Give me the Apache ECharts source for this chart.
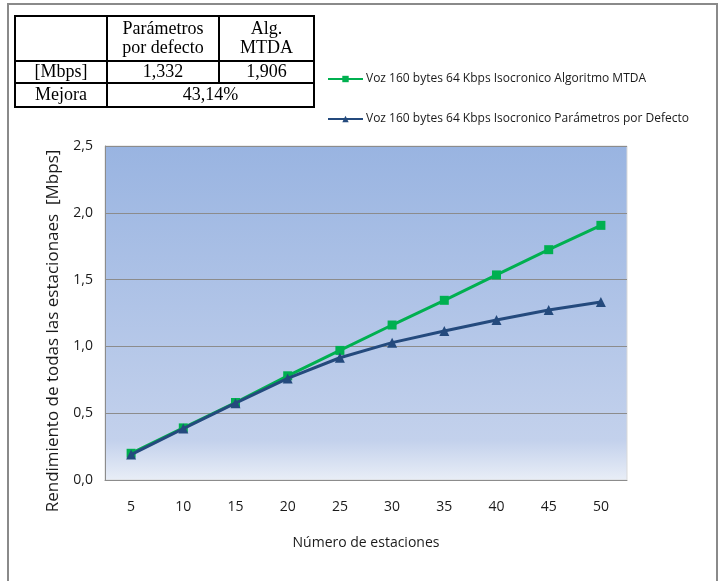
<!DOCTYPE html>
<html>
<head>
<meta charset="utf-8">
<script src="https://cdn.jsdelivr.net/npm/echarts@6/dist/echarts.min.js"></script>
<style>
  html, body { margin: 0; padding: 0; background: #ffffff; }
  #chart { width: 719px; height: 581px; }
</style>
</head>
<body>
<div id="chart"></div>
<script>
// Stations on the x axis
const estaciones = ['5', '10', '15', '20', '25', '30', '35', '40', '45', '50'];

// Aggregate throughput [Mbps]
const mtda = [0.20, 0.39, 0.58, 0.78, 0.97, 1.16, 1.345, 1.535, 1.724, 1.906];
const defecto = [0.19, 0.385, 0.575, 0.76, 0.915, 1.028, 1.115, 1.198, 1.272, 1.332];

const serieNames = [
  'Voz 160 bytes 64 Kbps Isocronico Algoritmo MTDA',
  'Voz 160 bytes 64 Kbps Isocronico Parámetros por Defecto'
];

const ejeY = 'Rendimiento de todas las estacionaes  [Mbps]';
const ejeX = 'Número de estaciones';

// Summary table
const tablaCabecera = ['', 'Parámetros\npor defecto', 'Alg.\nMTDA'];
const tablaMbps = ['[Mbps]', '1,332', '1,906'];
const tablaMejora = ['Mejora', '43,14%'];

const sansFont = '"Open Sans", sans-serif';
const serifFont = '"Liberation Serif", "DejaVu Serif", serif';

// Table geometry
const colX = [15, 107, 219, 314];
const rowY = [16, 61, 83, 107];

const tableGraphics = [];
tableGraphics.push({
  type: 'rect',
  shape: { x: colX[0], y: rowY[0], width: colX[3] - colX[0], height: rowY[3] - rowY[0] },
  style: { fill: '#ffffff', stroke: '#000000', lineWidth: 2 }
});
[rowY[1], rowY[2]].forEach(y => tableGraphics.push({
  type: 'line', shape: { x1: colX[0], y1: y, x2: colX[3], y2: y },
  style: { stroke: '#000000', lineWidth: 2 }
}));
tableGraphics.push({ type: 'line', shape: { x1: colX[1], y1: rowY[0], x2: colX[1], y2: rowY[3] }, style: { stroke: '#000', lineWidth: 2 } });
tableGraphics.push({ type: 'line', shape: { x1: colX[2], y1: rowY[0], x2: colX[2], y2: rowY[2] }, style: { stroke: '#000', lineWidth: 2 } });

function cellText(text, x0, x1, y0, y1, lh) {
  return {
    type: 'text',
    x: (x0 + x1) / 2, y: (y0 + y1) / 2,
    style: {
      text: text, fill: '#000000',
      font: '18px ' + serifFont,
      lineHeight: lh || 20,
      align: 'center', verticalAlign: 'middle'
    }
  };
}
for (let c = 0; c < 3; c++) {
  tableGraphics.push(cellText(tablaCabecera[c], colX[c], colX[c + 1], rowY[0], rowY[1] + 1, 19));
  tableGraphics.push(cellText(tablaMbps[c], colX[c], colX[c + 1], rowY[1], rowY[2]));
}
tableGraphics.push(cellText(tablaMejora[0], colX[0], colX[1], rowY[2], rowY[3]));
tableGraphics.push(cellText(tablaMejora[1], colX[1], colX[3], rowY[2], rowY[3]));

// Rotated y-axis title, centred on the label column rather than the grid
tableGraphics.push({
  type: 'text',
  x: 53, y: 331,
  rotation: Math.PI / 2,
  style: {
    text: ejeY, fill: '#1a1a1a',
    font: '17px ' + sansFont,
    align: 'center', verticalAlign: 'middle'
  }
});

const chart = echarts.init(document.getElementById('chart'), null, { renderer: 'canvas' });

chart.setOption({
  backgroundColor: '#ffffff',
  animation: false,
  graphic: [
    {
      type: 'rect',
      shape: { x: 8, y: 4, width: 709, height: 600 },
      style: { fill: 'none', stroke: '#8a8a8a', lineWidth: 2 },
      z: -1
    }
  ].concat(tableGraphics),
  legend: {
    orient: 'vertical',
    left: 322,
    top: 68,
    itemWidth: 35,
    itemHeight: 8,
    itemGap: 28,
    data: serieNames,
    textStyle: { fontFamily: sansFont, fontSize: 12, color: '#1a1a1a', padding: [0, 0, 0, -2] }
  },
  grid: {
    left: 105, right: 92, top: 146, bottom: 101,
    show: true,
    borderColor: '#d9d9d9',
    borderWidth: 1,
    backgroundColor: {
      type: 'linear', x: 0, y: 0, x2: 0, y2: 1,
      colorStops: [
        { offset: 0, color: '#99b4e1' },
        { offset: 0.88, color: '#c3d1ec' },
        { offset: 1, color: '#e9eef7' }
      ]
    }
  },
  xAxis: {
    type: 'category',
    data: estaciones,
    boundaryGap: true,
    axisLine: { lineStyle: { color: '#8c8c8c', width: 1 } },
    axisTick: { show: false },
    axisLabel: { margin: 20, fontFamily: sansFont, fontSize: 14, color: '#1a1a1a' },
    name: ejeX,
    nameLocation: 'middle',
    nameGap: 56,
    nameTextStyle: { fontFamily: sansFont, fontSize: 14, color: '#1a1a1a' }
  },
  yAxis: {
    type: 'value',
    min: 0, max: 2.5, interval: 0.5,
    axisLine: { show: true, lineStyle: { color: '#8c8c8c' } },
    axisTick: { show: false },
    splitLine: { lineStyle: { color: '#8c8c8c', width: 1 } },
    axisLabel: {
      margin: 12, fontFamily: sansFont, fontSize: 14, color: '#1a1a1a',
      formatter: v => v.toFixed(1).replace('.', ',')
    }
  },
  series: [
    {
      name: serieNames[0],
      type: 'line',
      data: mtda,
      symbol: 'rect',
      symbolSize: 9,
      lineStyle: { color: '#00b050', width: 3 },
      itemStyle: { color: '#00b050' },
      z: 2
    },
    {
      name: serieNames[1],
      type: 'line',
      data: defecto,
      symbol: 'triangle',
      symbolSize: 10,
      lineStyle: { color: '#244a7d', width: 3 },
      itemStyle: { color: '#244a7d' },
      z: 3
    }
  ]
});
</script>
</body>
</html>
